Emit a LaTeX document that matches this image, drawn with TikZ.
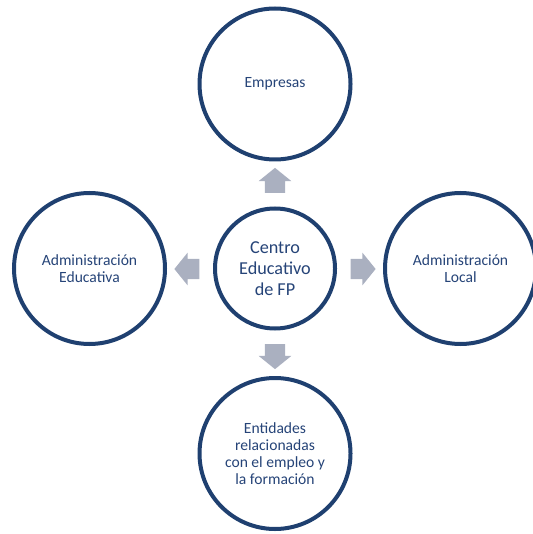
\documentclass[tikz,border=0pt]{standalone}
\usepackage{fontspec}
\setmainfont{Carlito}
\usetikzlibrary{shapes.arrows}
\definecolor{ringblue}{RGB}{31,64,112}
\definecolor{txtblue}{RGB}{38,68,120}
\definecolor{arrowgray}{RGB}{170,176,192}
\begin{document}
\begin{tikzpicture}[x=1pt, y=-1pt,
    entity/.style ={circle, draw=ringblue, line width=4pt, fill=white, minimum size=151pt, inner sep=0pt,
                    align=center, text=txtblue, font=\fontsize{15.6}{17}\selectfont},
    hub/.style ={entity, minimum size=120pt, font=\fontsize{18.2}{20.7}\selectfont},
    blockarrow/.style ={single arrow, fill=arrowgray, draw=none, inner sep=0pt,
                    minimum height=25pt, single arrow head extend=6.25pt, single arrow tip angle=102}]
   \useasboundingbox (0,0) rectangle (532,534);
   \node[hub] (o) at (275,268.5) {Centro\\Educativo\\de FP};
   \node[entity] (A) at (275,84) {Empresas};
   \node[entity] (B) at (89.5,268.5) {Administración\\Educativa};
   \node[entity] (C) at (460.5,268.5) {Administración\\Local};
   \node[entity] (D) at (275,453.5) {Entidades\\relacionadas\\con el empleo y\\la formación};

   \node[blockarrow, rotate=90] (oA) at (275,184.5) {\rule{0pt}{20pt}};
   \node[blockarrow, rotate=180] (oB) at (191,269) {\rule{0pt}{20pt}};
   \node[blockarrow] (oC) at (359,269) {\rule{0pt}{20pt}};
   \node[blockarrow, rotate=-90] (oD) at (275,352.5) {\rule{0pt}{20pt}};
\end{tikzpicture}
\end{document}
